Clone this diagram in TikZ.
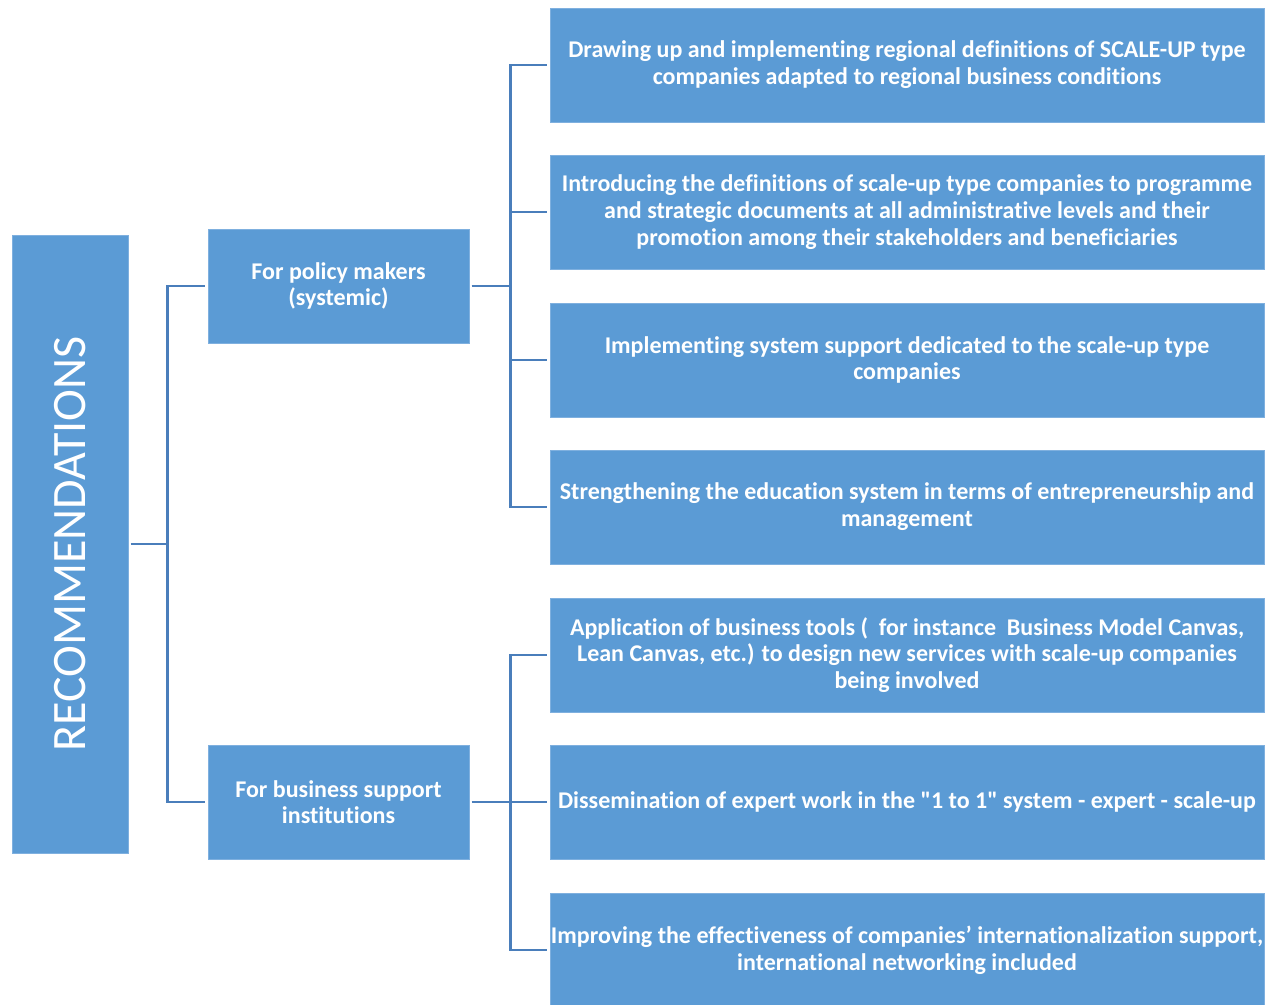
\documentclass[tikz,border=0pt]{standalone}
\usepackage{fontspec}
\setmainfont{Carlito}[Ligatures={TeXOff,CommonOff}]
\definecolor{boxblue}{HTML}{5B9BD5}
\definecolor{boxedge}{HTML}{7FB0DF}
\definecolor{linkblue}{HTML}{4A7EBB}
\begin{document}
\begin{tikzpicture}[x=1pt,y=1pt,
  box/.style={rectangle, fill=boxblue, draw=boxedge, line width=0.6pt,
    inner sep=0pt, text=white, align=center},
  mainbox/.style={box, minimum width=618pt, minimum height=116pt,
    font=\fontsize{48}{52}\selectfont, rotate=90},
  groupbox/.style={box, minimum width=261pt, minimum height=114pt,
    font=\bfseries\fontsize{24}{26.5}\selectfont},
  itembox/.style={box, minimum width=714pt, minimum height=114pt,
    font=\bfseries\fontsize{24}{26.8}\selectfont},
  link/.style={draw=linkblue, line width=2.4pt, shorten <=2.5pt, shorten >=2.5pt}]
  \useasboundingbox (0,0) rectangle (1268,-1004);

  % root
  \node[mainbox] (rec) at (70,-544) {RECOMMENDATIONS};

  % groups
  \node[groupbox] (pol) at (338.5,-286) {For policy makers\\(systemic)};
  \node[groupbox] (bus) at (338.5,-802) {For business support\\institutions};

  % recommendations for policy makers
  \node[itembox] (p1) at (907,-65) {Drawing up and implementing regional definitions of SCALE-UP type\\companies adapted to regional business conditions};
  \node[itembox] (p2) at (907,-212) {Introducing the definitions of scale-up type companies to programme\\and strategic documents at all administrative levels and their\\promotion among their stakeholders and beneficiaries};
  \node[itembox] (p3) at (907,-360) {Implementing system support dedicated to the scale-up type\\companies};
  \node[itembox] (p4) at (907,-507) {Strengthening the education system in terms of entrepreneurship and\\management};

  % recommendations for business support institutions
  \node[itembox] (b1) at (907,-655) {Application of business tools (\ \ for instance\ \ Business Model Canvas,\\Lean Canvas, etc.) to design new services with scale-up companies\\being involved};
  \node[itembox] (b2) at (907,-802) {Dissemination of expert work in the "1 to 1" system - expert - scale-up};
  \node[itembox] (b3) at (907,-950) {Improving the effectiveness of companies’ internationalization support,\\international networking included};

  % tree connectors
  \draw[link] (rec.south) -- ++(39,0) |- (pol.west);
  \draw[link] (rec.south) -- ++(39,0) |- (bus.west);
  \foreach \t in {p1,p2,p3,p4}
    \draw[link] (pol.east) -- ++(41,0) |- (\t.west);
  \foreach \t in {b1,b2,b3}
    \draw[link] (bus.east) -- ++(41,0) |- (\t.west);
\end{tikzpicture}
\end{document}
